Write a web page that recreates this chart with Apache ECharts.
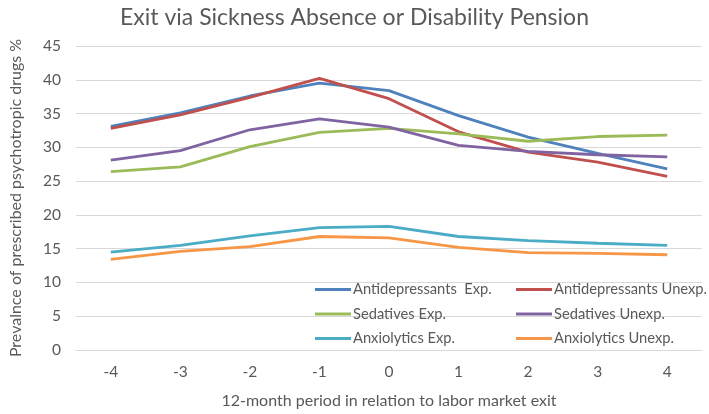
<!DOCTYPE html>
<html>
<head>
<meta charset="utf-8">
<script src="https://cdn.jsdelivr.net/npm/echarts@6/dist/echarts.min.js"></script>
<style>html,body{margin:0;padding:0;background:#fff}#c{width:709px;height:414px}</style>
</head>
<body>
<div id="c"></div>
<script>
var categories = ['-4','-3','-2','-1','0','1','2','3','4'];
var antidepExp   = [33.1, 35.1, 37.6, 39.5, 38.4, 34.7, 31.5, 29.1, 26.8];
var antidepUnexp = [32.8, 34.8, 37.4, 40.2, 37.2, 32.3, 29.3, 27.8, 25.7];
var sedExp       = [26.4, 27.1, 30.1, 32.2, 32.8, 32.0, 30.9, 31.6, 31.8];
var sedUnexp     = [28.1, 29.5, 32.6, 34.2, 33.0, 30.3, 29.4, 28.9, 28.6];
var anxExp       = [14.5, 15.5, 16.9, 18.1, 18.3, 16.8, 16.2, 15.8, 15.5];
var anxUnexp     = [13.4, 14.6, 15.3, 16.8, 16.6, 15.2, 14.4, 14.3, 14.1];
var seriesNames = ['Antidepressants  Exp.','Antidepressants Unexp.','Sedatives Exp.','Sedatives Unexp.','Anxiolytics Exp.','Anxiolytics Unexp.'];
var seriesData = [antidepExp, antidepUnexp, sedExp, sedUnexp, anxExp, anxUnexp];
var colors = ['#4F81BD','#C0504D','#9BBB59','#8064A2','#4BACC6','#F79646'];
var yTicks = {min: 0, max: 45, interval: 5};

var FONT = 'Lato';
var chart = echarts.init(document.getElementById('c'));
var legendCommon = {
  orient: 'vertical', itemWidth: 36, itemHeight: 3, itemGap: 9.5, padding: 0,
  icon: 'rect',
  textStyle: {color: '#595959', fontSize: 14.7, fontFamily: FONT, padding: [0,0,0,-3]}
};
chart.setOption({
  animation: false,
  color: colors,
  title: {
    text: 'Exit via Sickness Absence or Disability Pension',
    left: 'center', top: 1,
    textStyle: {color: '#595959', fontSize: 23, fontWeight: 'normal', fontFamily: FONT}
  },
  legend: [
    Object.assign({left: 315, top: 282, data: [seriesNames[0], seriesNames[2], seriesNames[4]]}, legendCommon),
    Object.assign({left: 516, top: 282, data: [seriesNames[1], seriesNames[3], seriesNames[5]]}, legendCommon)
  ],
  grid: {left: 64, right: 7, top: 46, bottom: 56},
  xAxis: {
    type: 'category', data: categories, boundaryGap: true,
    name: '12-month period in relation to labor market exit',
    nameLocation: 'middle', nameGap: 43,
    nameTextStyle: {color: '#595959', fontSize: 16, fontFamily: FONT},
    axisLine: {lineStyle: {color: '#D9D9D9'}},
    axisTick: {show: false},
    axisLabel: {color: '#595959', fontSize: 15.5, fontFamily: FONT, margin: 14}
  },
  yAxis: {
    type: 'value', min: yTicks.min, max: yTicks.max, interval: yTicks.interval,
    name: 'Prevalnce of prescribed psychotropic drugs %',
    nameLocation: 'middle', nameGap: 52,
    nameTextStyle: {color: '#595959', fontSize: 16, fontFamily: FONT},
    axisLine: {show: false}, axisTick: {show: false},
    splitLine: {lineStyle: {color: '#D9D9D9'}},
    axisLabel: {color: '#595959', fontSize: 15.5, fontFamily: FONT, margin: 15}
  },
  series: seriesNames.map(function (n, i) {
    return {
      name: n, type: 'line', data: seriesData[i], symbol: 'none',
      lineStyle: {width: 2.8, color: colors[i]}, itemStyle: {color: colors[i]}
    };
  })
});
</script>
</body>
</html>
